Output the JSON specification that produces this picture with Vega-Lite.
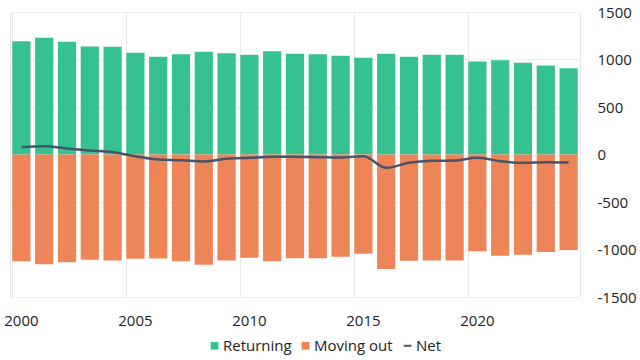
{
  "$schema": "https://vega.github.io/schema/vega-lite/v6.json",
  "width": 570,
  "height": 285,
  "autosize": {"type": "none"},
  "padding": {"left": 10, "top": 12, "right": 60, "bottom": 63},
  "config": {
    "font": "Open Sans",
    "view": {"stroke": "#e6e6e6", "strokeWidth": 1},
    "axis": {"labelFont": "Open Sans", "labelFontSize": 15, "labelColor": "#222222"}
  },
  "data": {"values": [
    {"year": 2000, "series": "Returning", "value": 1193}, {"year": 2000, "series": "Moving out", "value": -1123}, {"year": 2000, "series": "Net", "value": 77},
    {"year": 2001, "series": "Returning", "value": 1228}, {"year": 2001, "series": "Moving out", "value": -1154}, {"year": 2001, "series": "Net", "value": 87},
    {"year": 2002, "series": "Returning", "value": 1186}, {"year": 2002, "series": "Moving out", "value": -1133}, {"year": 2002, "series": "Net", "value": 63},
    {"year": 2003, "series": "Returning", "value": 1137}, {"year": 2003, "series": "Moving out", "value": -1109}, {"year": 2003, "series": "Net", "value": 42},
    {"year": 2004, "series": "Returning", "value": 1133}, {"year": 2004, "series": "Moving out", "value": -1116}, {"year": 2004, "series": "Net", "value": 24},
    {"year": 2005, "series": "Returning", "value": 1070}, {"year": 2005, "series": "Moving out", "value": -1098}, {"year": 2005, "series": "Net", "value": -18},
    {"year": 2006, "series": "Returning", "value": 1028}, {"year": 2006, "series": "Moving out", "value": -1095}, {"year": 2006, "series": "Net", "value": -53},
    {"year": 2007, "series": "Returning", "value": 1056}, {"year": 2007, "series": "Moving out", "value": -1123}, {"year": 2007, "series": "Net", "value": -60},
    {"year": 2008, "series": "Returning", "value": 1081}, {"year": 2008, "series": "Moving out", "value": -1161}, {"year": 2008, "series": "Net", "value": -74},
    {"year": 2009, "series": "Returning", "value": 1067}, {"year": 2009, "series": "Moving out", "value": -1116}, {"year": 2009, "series": "Net", "value": -45},
    {"year": 2010, "series": "Returning", "value": 1049}, {"year": 2010, "series": "Moving out", "value": -1088}, {"year": 2010, "series": "Net", "value": -35},
    {"year": 2011, "series": "Returning", "value": 1088}, {"year": 2011, "series": "Moving out", "value": -1123}, {"year": 2011, "series": "Net", "value": -24},
    {"year": 2012, "series": "Returning", "value": 1060}, {"year": 2012, "series": "Moving out", "value": -1091}, {"year": 2012, "series": "Net", "value": -24},
    {"year": 2013, "series": "Returning", "value": 1056}, {"year": 2013, "series": "Moving out", "value": -1091}, {"year": 2013, "series": "Net", "value": -28},
    {"year": 2014, "series": "Returning", "value": 1039}, {"year": 2014, "series": "Moving out", "value": -1077}, {"year": 2014, "series": "Net", "value": -32},
    {"year": 2015, "series": "Returning", "value": 1018}, {"year": 2015, "series": "Moving out", "value": -1046}, {"year": 2015, "series": "Net", "value": -18},
    {"year": 2016, "series": "Returning", "value": 1060}, {"year": 2016, "series": "Moving out", "value": -1204}, {"year": 2016, "series": "Net", "value": -140},
    {"year": 2017, "series": "Returning", "value": 1028}, {"year": 2017, "series": "Moving out", "value": -1119}, {"year": 2017, "series": "Net", "value": -88},
    {"year": 2018, "series": "Returning", "value": 1049}, {"year": 2018, "series": "Moving out", "value": -1116}, {"year": 2018, "series": "Net", "value": -67},
    {"year": 2019, "series": "Returning", "value": 1049}, {"year": 2019, "series": "Moving out", "value": -1116}, {"year": 2019, "series": "Net", "value": -63},
    {"year": 2020, "series": "Returning", "value": 979}, {"year": 2020, "series": "Moving out", "value": -1018}, {"year": 2020, "series": "Net", "value": -35},
    {"year": 2021, "series": "Returning", "value": 993}, {"year": 2021, "series": "Moving out", "value": -1067}, {"year": 2021, "series": "Net", "value": -70},
    {"year": 2022, "series": "Returning", "value": 965}, {"year": 2022, "series": "Moving out", "value": -1056}, {"year": 2022, "series": "Net", "value": -88},
    {"year": 2023, "series": "Returning", "value": 937}, {"year": 2023, "series": "Moving out", "value": -1025}, {"year": 2023, "series": "Net", "value": -81},
    {"year": 2024, "series": "Returning", "value": 908}, {"year": 2024, "series": "Moving out", "value": -1004}, {"year": 2024, "series": "Net", "value": -84}
  ]},
  "encoding": {
    "x": {
      "field": "year", "type": "ordinal",
      "scale": {"paddingInner": 0.2, "paddingOuter": 0.1},
      "axis": {
        "title": null, "labelAngle": 0, "values": [2000, 2005, 2010, 2015, 2020],
        "bandPosition": 0,
        "ticks": false, "domain": false, "labelPadding": 16,
        "grid": true, "gridColor": "#e8e8e8", "gridWidth": 1
      }
    },
    "y": {
      "field": "value", "type": "quantitative",
      "scale": {"domain": [-1500, 1500], "nice": false, "zero": true},
      "axis": {
        "orient": "right", "title": null, "values": [-1500, -1000, -500, 0, 500, 1000, 1500],
        "labelExpr": "'' + datum.value", "ticks": false, "domain": false, "labelPadding": 17,
        "grid": true, "gridColor": "#eeeeee", "gridWidth": 1
      }
    },
    "color": {
      "field": "series", "type": "nominal",
      "scale": {"domain": ["Returning", "Moving out", "Net"], "range": ["#36C191", "#EE8559", "#44546A"]},
      "legend": {
        "title": null, "orient": "none", "direction": "horizontal", "legendX": 197, "legendY": 326,
        "labelFont": "Open Sans", "labelFontSize": 15, "labelColor": "#222222",
        "symbolSize": 60, "columnPadding": 6, "labelOffset": 1,
        "encode": {
          "symbols": {"update": {
            "shape": {"signal": "datum.label === 'Net' ? 'stroke' : 'square'"},
            "stroke": {"signal": "scale('color', datum.value)"},
            "strokeWidth": {"signal": "datum.label === 'Net' ? 2 : 0"},
            "fill": {"signal": "scale('color', datum.value)"}
          }}
        }
      }
    }
  },
  "layer": [
    {
      "transform": [{"filter": "datum.series !== 'Net'"}],
      "mark": {"type": "bar"},
      "encoding": {"y": {"field": "value", "type": "quantitative", "stack": null}}
    },
    {
      "transform": [{"filter": "datum.series === 'Net'"}],
      "mark": {"type": "line", "interpolate": "monotone", "strokeWidth": 2.5}
    }
  ]
}
